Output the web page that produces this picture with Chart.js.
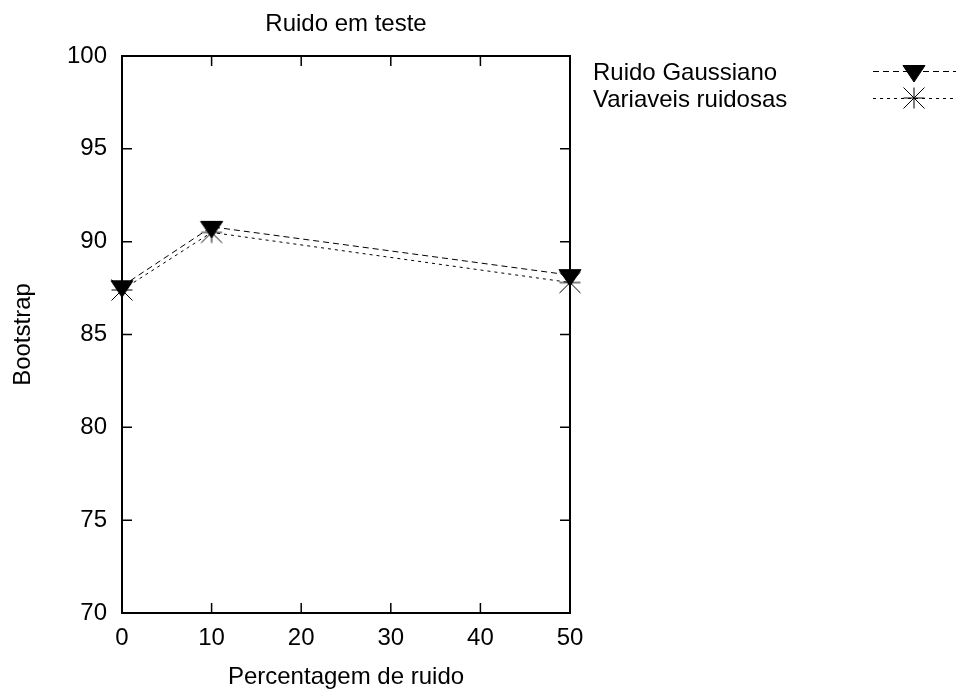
<!DOCTYPE html>
<html>
<head>
<meta charset="utf-8">
<script src="https://cdn.jsdelivr.net/npm/chart.js@4.4.1/dist/chart.umd.min.js"></script>
<style>
  html, body { margin: 0; padding: 0; background: #fff; }
  #wrap { width: 960px; height: 690px; }
</style>
</head>
<body>
<div id="wrap"><canvas id="c" width="960" height="690"></canvas></div>
<script>
// ---- data ----
const chartTitle = 'Ruido em teste';
const xTitle = 'Percentagem de ruido';
const yTitle = 'Bootstrap';
const noiseLevels = [0, 10, 50];
const gaussianValues = [87.6, 90.8, 88.2];
const noisyVarValues = [87.4, 90.5, 87.8];
const seriesNames = ['Ruido Gaussiano', 'Variaveis ruidosas'];
const xTickValues = [0, 10, 20, 30, 40, 50];
const yTickValues = [70, 75, 80, 85, 90, 95, 100];

const FONT = '"Liberation Sans", Arial, Helvetica, sans-serif';
const toPts = (xs, ys) => xs.map((x, i) => ({ x: x, y: ys[i] }));

// gnuplot-like point symbols
function makeTriangle() {
  const c = document.createElement('canvas');
  c.width = 26; c.height = 26;
  const g = c.getContext('2d');
  const cx = 13, cy = 13;
  g.fillStyle = '#000';
  g.strokeStyle = '#000';
  g.lineWidth = 1;
  g.beginPath();
  g.moveTo(cx - 11, cy - 5.5);
  g.lineTo(cx + 11, cy - 5.5);
  g.lineTo(cx, cy + 11);
  g.closePath();
  g.fill();
  g.stroke();
  return c;
}
function makeStar() {
  const c = document.createElement('canvas');
  c.width = 26; c.height = 26;
  const g = c.getContext('2d');
  const cx = 13, cy = 13, s = 10.5;
  g.strokeStyle = '#000';
  g.lineWidth = 1;
  g.beginPath();
  g.moveTo(cx - s, cy); g.lineTo(cx + s, cy);
  g.moveTo(cx, cy - s); g.lineTo(cx, cy + s);
  g.moveTo(cx - s, cy - s); g.lineTo(cx + s, cy + s);
  g.moveTo(cx - s, cy + s); g.lineTo(cx + s, cy - s);
  g.stroke();
  return c;
}
const symbols = [makeTriangle(), makeStar()];
const dashes = [[6, 4], [3, 4]];

const framePlugin = {
  id: 'frame',
  beforeDatasetsDraw(chart) {
    const ctx = chart.ctx, a = chart.chartArea;
    const xs = chart.scales.x, ys = chart.scales.y;
    ctx.save();
    ctx.strokeStyle = '#000';
    ctx.lineWidth = 1.5;
    const tl = 10;
    ctx.beginPath();
    xTickValues.forEach(v => {
      const px = xs.getPixelForValue(v);
      ctx.moveTo(px, a.bottom); ctx.lineTo(px, a.bottom - tl);
      ctx.moveTo(px, a.top); ctx.lineTo(px, a.top + tl);
    });
    yTickValues.forEach(v => {
      const py = ys.getPixelForValue(v);
      ctx.moveTo(a.left, py); ctx.lineTo(a.left + tl, py);
      ctx.moveTo(a.right, py); ctx.lineTo(a.right - tl, py);
    });
    ctx.stroke();
    ctx.lineWidth = 2;
    ctx.strokeRect(a.left, a.top, a.right - a.left, a.bottom - a.top);
    ctx.restore();
  },
  afterDraw(chart) {
    const ctx = chart.ctx, a = chart.chartArea;
    const cx = (a.left + a.right) / 2;
    ctx.save();
    ctx.fillStyle = '#000';
    ctx.font = '24px ' + FONT;
    ctx.textAlign = 'center';
    ctx.textBaseline = 'alphabetic';
    ctx.fillText(chartTitle, cx, 31);
    ctx.fillText(xTitle, cx, 684);
    ctx.save();
    ctx.translate(30, (a.top + a.bottom) / 2);
    ctx.rotate(-Math.PI / 2);
    ctx.fillText(yTitle, 0, 0);
    ctx.restore();
    // legend
    const rows = [71, 98];
    ctx.textAlign = 'left';
    ctx.textBaseline = 'middle';
    seriesNames.forEach((name, i) => {
      const y = rows[i];
      ctx.fillStyle = '#000';
      ctx.fillText(name, 593, y + 2);
      ctx.strokeStyle = '#000';
      ctx.lineWidth = 1;
      ctx.setLineDash(dashes[i]);
      ctx.beginPath();
      ctx.moveTo(873, y + 0.5); ctx.lineTo(956, y + 0.5);
      ctx.stroke();
      ctx.setLineDash([]);
      const img = symbols[i];
      ctx.drawImage(img, 914 - img.width / 2, y - img.height / 2);
    });
    ctx.restore();
  }
};

const datasets = [gaussianValues, noisyVarValues].map((vals, i) => ({
  label: seriesNames[i],
  data: toPts(noiseLevels, vals),
  borderColor: '#000',
  backgroundColor: '#000',
  borderWidth: 1,
  borderDash: dashes[i],
  pointStyle: symbols[i],
  pointRadius: 11,
  tension: 0,
  fill: false,
  clip: false
}));

new Chart(document.getElementById('c'), {
  type: 'line',
  data: { datasets: datasets },
  options: {
    responsive: false,
    animation: false,
    devicePixelRatio: 1,
    layout: { padding: { left: 0, top: 56, right: 390, bottom: 0 } },
    plugins: { legend: { display: false }, title: { display: false }, tooltip: { enabled: false } },
    scales: {
      x: {
        type: 'linear', min: 0, max: 50,
        afterFit(s) { s.height = 77; },
        afterBuildTicks(s) { s.ticks = xTickValues.map(v => ({ value: v })); },
        ticks: { color: '#000', font: { family: FONT, size: 24 }, padding: 11, maxRotation: 0 },
        grid: { display: false, drawTicks: false },
        border: { display: false }
      },
      y: {
        type: 'linear', min: 70, max: 100,
        afterFit(s) { s.width = 122; },
        afterBuildTicks(s) { s.ticks = yTickValues.map(v => ({ value: v })); },
        ticks: { color: '#000', font: { family: FONT, size: 24 }, padding: 15 },
        grid: { display: false, drawTicks: false },
        border: { display: false }
      }
    }
  },
  plugins: [framePlugin]
});
</script>
</body>
</html>
